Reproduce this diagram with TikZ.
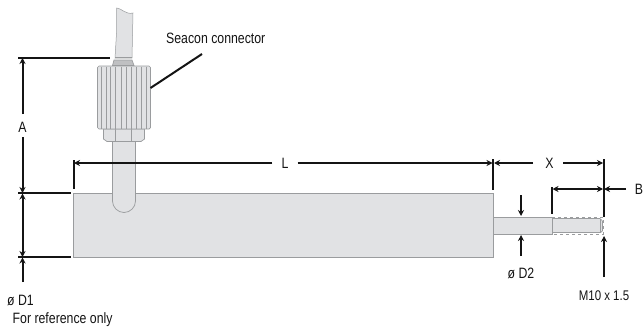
\documentclass[tikz,border=0pt]{standalone}
\usepackage{fontspec}
\setmainfont[FakeStretch=0.82]{Liberation Sans}
\usetikzlibrary{arrows.meta}
\definecolor{bodyfill}{HTML}{E1E2E4}
\definecolor{edge}{HTML}{9A9C9E}
\definecolor{ink}{HTML}{141414}
\tikzset{
  part/.style={draw=edge,fill=bodyfill,line width=0.7pt},
  dimline/.style={draw=ink,line width=2pt},
  dim/.style={dimline,-{Stealth[length=6pt,width=6pt]}},
  dimboth/.style={dimline,{Stealth[length=6pt,width=6pt]}-{Stealth[length=6pt,width=6pt]}},
  lab/.style={font=\fontsize{15}{17}\selectfont,text=ink,inner sep=0pt},
}
\begin{document}
\begin{tikzpicture}[x=1pt,y=-1pt]
\useasboundingbox (0,0) rectangle (644,332);
% body
\draw[part] (73.5,193.5) rectangle (493,257);
% shaft and thread
\draw[part] (493,217) rectangle (552,234);
\fill[bodyfill] (552,219) rectangle (602,233);
\draw[edge,line width=0.6pt,dashed] (552,217) -- (603,217) -- (603,234) -- (552,234);
\draw[edge,line width=0.6pt] (552,218.5) -- (600,218.5) -- (602.5,221) -- (602.5,231) -- (600,232.5) -- (552,232.5);
\draw[edge,line width=0.6pt] (600,218.5) -- (600,232.5);
\draw[edge,line width=0.8pt] (552,217) -- (552,234);
% tube
\draw[part] (112.5,141) -- (112.5,201) arc[start angle=180,end angle=0,x radius=11.5,y radius=11.5] -- (135.5,141) -- cycle;
% nut
\draw[part] (103.5,129) -- (144.5,129) -- (144.5,139) -- (141,141.5) -- (107,141.5) -- (103.5,139) -- cycle;
\draw[edge,line width=0.7pt] (115.5,129) -- (115.5,141.5) (131.5,129) -- (131.5,141.5);
% cable
\draw[part,line width=0.5pt] (115,58) -- (116.7,30) -- (116.7,8) .. controls (121,8) and (126,15) .. (133,13) -- (132,58) -- cycle;
% collar
\draw[part,fill=bodyfill!85!black] (112.5,65.5) -- (114,60) -- (132,60) -- (134,65.5) -- cycle;
\draw[edge,line width=0.5pt] (115,57.5) -- (131.5,57.5);
% knurled grip
\draw[part,rounded corners=1.5pt] (97.5,66) rectangle (150.5,129);
\foreach \kx in {101.5,106,110,115.5,121,126,131,136.5,141,146}{
  \draw[edge,line width=0.6pt] (\kx,66.5) -- (\kx,128.5);
}
% named references
\coordinate (aT) at (22.5,58);
\coordinate (aB) at (22.5,193);
\coordinate (dB) at (22.5,257);
\coordinate (lL) at (74,163);
\coordinate (lR) at (492.5,163);
\coordinate (xL) at (494,163);
\coordinate (xR) at (603,163);
\coordinate (bL) at (552.5,189);
\coordinate (bR) at (603,189);
% extension lines
\draw[dimline,line width=1.5pt] (18,58) -- (110,58);
\draw[dimline,line width=1.5pt] (18,193) -- (71,193);
\draw[dimline,line width=1.5pt] (18,257) -- (71,257);
\draw[dimline] (73.5,160) -- (73.5,189);
\draw[dimline] (493,159) -- (493,190);
\draw[dimline] (603.5,159) -- (603.5,217);
\draw[dimline] (552,187) -- (552,214);
% A
\node[lab] (A) at (22.5,127) {A};
\draw[dim] (22.5,114) -- (aT);
\draw[dim] (22.5,137) -- (aB);
% D1 height
\draw[dimboth] (22.5,193.5) -- (dB);
\node[lab] (dOne) at (20.5,300) {ø D1};
\draw[dim] (22.5,282) -- (22.5,257.5);
\node[lab,anchor=west] (refonly) at (12.5,320) {For reference only};
% L
\node[lab] (L) at (285,163) {L};
\draw[dim] (L.west) ++(-9,0) -- (lL);
\draw[dim] (L.east) ++(9,0) -- (lR);
% X
\node[lab] (X) at (549.5,163) {X};
\draw[dim] (533,163) -- (xL);
\draw[dim] (563,163) -- (xR);
% B
\draw[dimboth] (bL) -- (bR);
\node[lab] (B) at (639,189) {B};
\draw[dim] (626,189) -- (604,189);
% D2
\draw[dim] (521,195) -- (521,216);
\draw[dim] (521,256) -- (521,235);
\node[lab] (dTwo) at (521,273) {ø D2};
% M10
\draw[dim] (604,277) -- (604,236);
\node[lab,font=\fontsize{14}{16}\selectfont] (mten) at (604,296) {M10 x 1.5};
% Seacon
\node[lab,anchor=west] (seacon) at (166,38) {Seacon connector};
\coordinate (grip) at (150.5,88);
\draw[dimline] (202,54) -- (grip);
\end{tikzpicture}
\end{document}
